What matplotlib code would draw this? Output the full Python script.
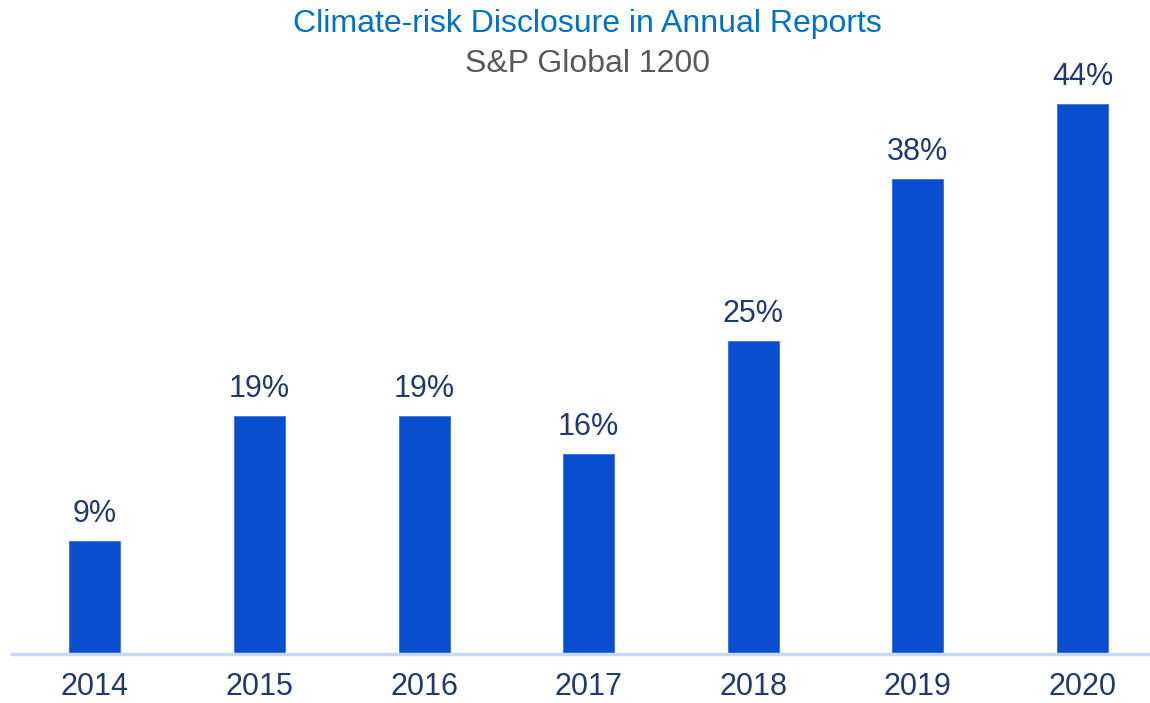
import matplotlib
matplotlib.use('Agg')
import matplotlib.pyplot as plt

plt.rcParams['font.family'] = ['Liberation Sans', 'DejaVu Sans']

years = ['2014', '2015', '2016', '2017', '2018', '2019', '2020']
disclosure_pct = [9, 19, 19, 16, 25, 38, 44]

BAR_COLOR = '#0A4ED0'
LABEL_COLOR = '#22396B'

fig = plt.figure(figsize=(11.5, 7.03), dpi=100)
ax = fig.add_axes([0.0104, 0.0697, 0.9896, 0.8535])

x = range(len(years))
bars = ax.bar(x, disclosure_pct, width=0.31, color=BAR_COLOR, edgecolor='#3C6FE0', linewidth=0.6)

for xi, v in zip(x, disclosure_pct):
    ax.annotate(f'{v}%', (xi, v), xytext=(0, 14), textcoords='offset points',
                ha='center', va='baseline', fontsize=22, color=LABEL_COLOR)

ax.set_xlim(-0.504, 6.41)
ax.set_ylim(0, 48)
ax.set_xticks(list(x))
ax.set_xticklabels(years, fontsize=22, color=LABEL_COLOR)
ax.tick_params(axis='x', length=0, pad=13)
ax.set_yticks([])
for side in ['top', 'right', 'left']:
    ax.spines[side].set_visible(False)
ax.spines['bottom'].set_color('#C6DAF3')
ax.spines['bottom'].set_linewidth(2.5)

fig.text(0.511, 0.966, 'Climate-risk Disclosure in Annual Reports', ha='center', va='center',
         fontsize=23, color='#0070C0')
fig.text(0.511, 0.909, 'S&P Global 1200', ha='center', va='center',
         fontsize=23, color='#595959')

fig.savefig('out.png', dpi=100)
